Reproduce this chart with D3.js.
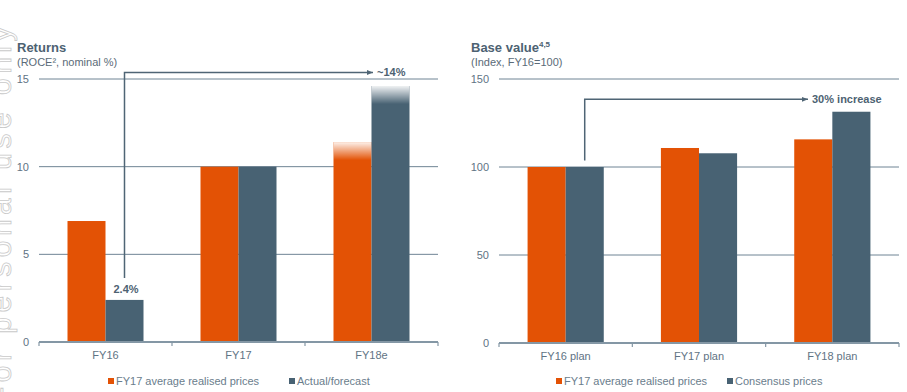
<!DOCTYPE html>
<html><head><meta charset="utf-8">
<script src="https://cdn.jsdelivr.net/npm/d3@7"></script>
<style>body{margin:0;background:#fff}svg{display:block;font-family:"Liberation Sans",Arial,sans-serif}</style>
</head><body><svg id="c" width="907" height="392"></svg>
<script>
// Left chart: Returns
const leftCats = ["FY16", "FY17", "FY18e"];
const leftRealised = [6.9, 10.0, 11.4];
const leftActual = [2.4, 10.0, 14.6];
const leftTicks = [0, 5, 10, 15];
const leftFaded = [false, false, true];
// Right chart: Base value
const rightCats = ["FY16 plan", "FY17 plan", "FY18 plan"];
const rightRealised = [100, 110.8, 115.7];
const rightConsensus = [100, 107.8, 131.4];
const rightTicks = [0, 50, 100, 150];
const rightFaded = [false, false, false];

const ORANGE = "#e35205", SLATE = "#486273";
const svg = d3.select("#c");

const defs = svg.append("defs");
const g = defs.append("linearGradient").attr("id","fade").attr("x1",0).attr("y1",0).attr("x2",0).attr("y2",1);
g.append("stop").attr("offset","0").attr("stop-color","#fff").attr("stop-opacity",0.92);
g.append("stop").attr("offset","1").attr("stop-color","#fff").attr("stop-opacity",0);
const m = defs.append("marker").attr("id","arr").attr("viewBox","0 0 10 10").attr("refX",10).attr("refY",5)
  .attr("markerWidth",6).attr("markerHeight",6).attr("markerUnits","userSpaceOnUse").attr("orient","auto");
m.append("path").attr("d","M0,1 L10,5 L0,9 Z").attr("fill","#4f6575");

// watermark (cut at the left edge, as in the original)
svg.append("text").attr("transform","translate(11,22) rotate(-90)").attr("text-anchor","end")
  .attr("font-size",30).attr("letter-spacing",4.5).attr("fill","#fff").attr("stroke","#c9c9c9").attr("stroke-width",0.8)
  .text("For personal use only");

function chart(o) {
  const x = d3.scaleBand().domain(o.cats).range([o.x0, o.x1]);
  const y = d3.scaleLinear().domain(o.domain).range([o.y0, o.y1]);
  const bw = x.bandwidth() * 0.2857;
  const root = svg.append("g");
  // gridlines
  root.selectAll(".grid").data(o.ticks.filter(t => t > 0)).join("line")
    .attr("x1", o.x0).attr("x2", o.x1).attr("y1", d => y(d)).attr("y2", d => y(d))
    .attr("stroke", "#6f8494").attr("stroke-width", 1);
  // tick labels
  root.selectAll(".tl").data(o.ticks).join("text")
    .attr("x", o.x0 - 10).attr("y", d => y(d)).attr("dy", "0.35em").attr("text-anchor", "end")
    .attr("font-size", 11).attr("fill", "#5f7384").text(d => d);
  // bars
  const series = [o.a, o.b], cols = [ORANGE, SLATE];
  series.forEach((vals, si) => {
    root.selectAll(".b" + si).data(vals).join("rect")
      .attr("x", (d, i) => x(o.cats[i]) + x.bandwidth() / 2 - bw + si * bw)
      .attr("y", d => y(d)).attr("width", bw).attr("height", d => y(0) - y(d))
      .attr("fill", cols[si]);
    root.selectAll(".f" + si).data(vals.map((v, i) => ({v, i})).filter(d => o.faded[d.i])).join("rect")
      .attr("x", d => x(o.cats[d.i]) + x.bandwidth() / 2 - bw + si * bw)
      .attr("y", d => y(d.v)).attr("width", bw).attr("height", 18).attr("fill", "url(#fade)");
  });
  // baseline axis
  const ax = d3.axisBottom(x).tickSize(0).tickPadding(9);
  const axg = root.append("g").attr("transform", `translate(0,${y(0)})`).call(ax);
  axg.select(".domain").remove();
  axg.selectAll("text").attr("font-size", 11).attr("fill", "#5f7384").attr("font-family", "Liberation Sans, Arial, sans-serif");
  root.append("line").attr("x1", o.x0).attr("x2", o.x1).attr("y1", y(0)).attr("y2", y(0))
    .attr("stroke", "#8497a5").attr("stroke-width", 2);
  const edges = [o.x0, ...o.cats.slice(1).map(c => x(c)), o.x1];
  root.selectAll(".tk").data(edges).join("line")
    .attr("x1", d => d).attr("x2", d => d).attr("y1", y(0)).attr("y2", y(0) + 4)
    .attr("stroke", "#8497a5").attr("stroke-width", 1.2);
  // titles
  const t = root.append("text").attr("x", o.tx).attr("y", 52).attr("font-size", 13).attr("font-weight", "bold").attr("fill", "#4d6272");
  t.append("tspan").text(o.title);
  if (o.sup) t.append("tspan").attr("font-size", 8).attr("dy", -5).text(o.sup);
  root.append("text").attr("x", o.tx).attr("y", 66).attr("font-size", 11).attr("fill", "#5b6b78").text(o.sub);
  // arrow annotation
  const ax0 = x(o.cats[0]) + x.bandwidth() / 2 + bw / 2;
  root.append("path").attr("d", `M${ax0},${o.arrY0} V${o.arrY} H${o.arrX}`)
    .attr("fill", "none").attr("stroke", "#4f6575").attr("stroke-width", 1.5).attr("marker-end", "url(#arr)");
  root.append("text").attr("x", o.arrX + 4).attr("y", o.arrY + 3.5).attr("font-size", 11).attr("font-weight", "bold")
    .attr("fill", "#4d6272").text(o.arrLabel);
  // legend
  const lg = root.append("g");
  o.legend.forEach((l, i) => {
    lg.append("rect").attr("x", l.x).attr("y", 378).attr("width", 6).attr("height", 6).attr("fill", cols[i]);
    lg.append("text").attr("x", l.x + 8).attr("y", 384.5).attr("font-size", 11).attr("fill", "#6a7d8c").text(l.t);
  });
  return {x, y, bw, root};
}

const L = chart({cats: leftCats, a: leftRealised, b: leftActual, faded: leftFaded, ticks: leftTicks, domain: [0, 15],
  x0: 39, x1: 438, y0: 342, y1: 79, tx: 17, title: "Returns", sub: "(ROCE², nominal %)",
  arrY0: 278, arrY: 72.5, arrX: 373, arrLabel: "~14%",
  legend: [{x: 108, t: "FY17 average realised prices"}, {x: 289, t: "Actual/forecast"}]});
// 2.4% label
L.root.append("text").attr("x", L.x(leftCats[0]) + L.x.bandwidth() / 2 + L.bw / 2 + 1.5).attr("y", L.y(leftActual[0]) - 7)
  .attr("text-anchor", "middle").attr("font-size", 11).attr("font-weight", "bold").attr("fill", "#4d6272").text("2.4%");

chart({cats: rightCats, a: rightRealised, b: rightConsensus, faded: rightFaded, ticks: rightTicks, domain: [0, 150],
  x0: 499, x1: 899, y0: 343, y1: 79, tx: 471, title: "Base value", sup: "4,5", sub: "(Index, FY16=100)",
  arrY0: 160.5, arrY: 99.3, arrX: 808, arrLabel: "30% increase",
  legend: [{x: 556, t: "FY17 average realised prices"}, {x: 727, t: "Consensus prices"}]});
</script></body></html>
